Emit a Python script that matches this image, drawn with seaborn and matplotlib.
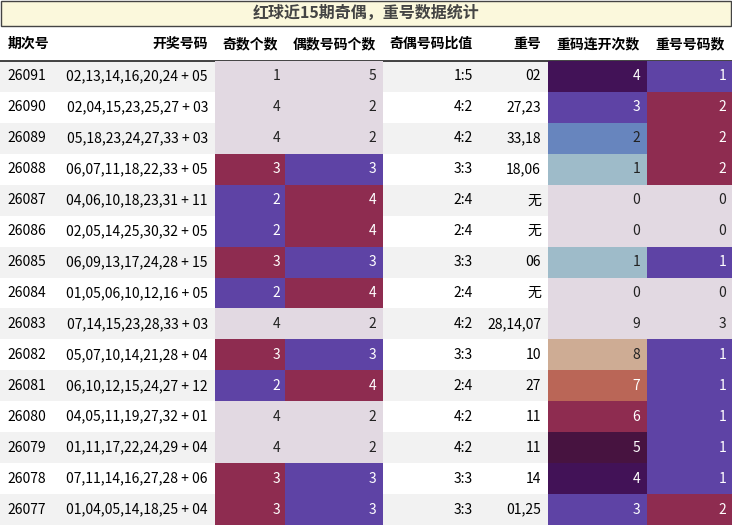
import matplotlib
matplotlib.use("Agg")
import matplotlib.pyplot as plt
import seaborn as sns
import numpy as np
import pandas as pd
from matplotlib.patches import Rectangle

plt.rcParams['font.family'] = ['Noto Sans CJK SC', 'DejaVu Sans']

issues = ["26091","26090","26089","26088","26087","26086","26085","26084","26083","26082","26081","26080","26079","26078","26077"]
draws = ["02,13,14,16,20,24 + 05","02,04,15,23,25,27 + 03","05,18,23,24,27,33 + 03","06,07,11,18,22,33 + 05",
         "04,06,10,18,23,31 + 11","02,05,14,25,30,32 + 05","06,09,13,17,24,28 + 15","01,05,06,10,12,16 + 05",
         "07,14,15,23,28,33 + 03","05,07,10,14,21,28 + 04","06,10,12,15,24,27 + 12","04,05,11,19,27,32 + 01",
         "01,11,17,22,24,29 + 04","07,11,14,16,27,28 + 06","01,04,05,14,18,25 + 04"]
odd_cnt = [1,4,4,3,2,2,3,2,4,3,2,4,4,3,3]
even_cnt = [5,2,2,3,4,4,3,4,2,3,4,2,2,3,3]
ratio = ["1:5","4:2","4:2","3:3","2:4","2:4","3:3","2:4","4:2","3:3","2:4","4:2","4:2","3:3","3:3"]
repeats = ["02","27,23","33,18","18,06","无","无","06","无","28,14,07","10","27","11","11","14","01,25"]
consec = [4,3,2,1,0,0,1,0,9,8,7,6,5,4,3]
rep_cnt = [1,2,2,2,0,0,1,0,3,1,1,1,1,1,2]
headers = ["期次号","开奖号码","奇数个数","偶数号码个数","奇偶号码比值","重号","重码连开次数","重号号码数"]
title = "红球近15期奇偶，重号数据统计"

W, H = 732, 525
fig = plt.figure(figsize=(W/100, H/100), dpi=100)
ax = fig.add_axes([0, 0, 1, 1])
ax.set_xlim(0, W); ax.set_ylim(H, 0); ax.axis('off')

edges = [0, 55, 215, 285, 383, 480, 548, 647, 732]
top_title, top_head, top_data = 0, 26, 61
rh = (H - top_data) / 15

ax.add_patch(Rectangle((1, 1), W-2, 25, facecolor='#fbf8dc', edgecolor='#444444', lw=1))
ax.text(W/2, 13, title, ha='center', va='center', fontsize=11.5, fontweight='bold', color='#444444')
for i, h in enumerate(headers):
    if i == 0:
        ax.text(8, 44, h, ha='left', va='center', fontsize=10, fontweight='bold')
    else:
        ax.text(edges[i+1]-7, 44, h, ha='right', va='center', fontsize=10, fontweight='bold')
ax.plot([0, W], [top_data, top_data], color='#222222', lw=1.2)

for r in range(15):
    y0 = top_data + r*rh
    bg = '#f2f2f2' if r % 2 == 0 else 'white'
    ax.add_patch(Rectangle((0, y0), W, rh, facecolor=bg, edgecolor='none', zorder=0))
    yc = y0 + rh/2
    ax.text(27, yc, issues[r], ha='center', va='center', fontsize=10)
    ax.text(edges[2]-7, yc, draws[r], ha='right', va='center', fontsize=10)
    ax.text(edges[5]-7, yc, ratio[r], ha='right', va='center', fontsize=10)
    ax.text(edges[6]-7, yc, repeats[r], ha='right', va='center', fontsize=10)

cmap = plt.get_cmap('twilight')
def norm(v):
    v = np.array(v, float); return (v - v.min()) / (v.max() - v.min())

def heat(cols, vals, x0, x1):
    dfv = pd.DataFrame({k: norm(v) for k, v in zip(cols, vals)})
    hax = fig.add_axes([x0/W, 0, (x1-x0)/W, (H-top_data)/H])
    sns.heatmap(dfv, ax=hax, cmap=cmap, vmin=0, vmax=1, cbar=False,
                xticklabels=False, yticklabels=False)
    hax.axis('off')
    for c, v in enumerate(vals):
        n = norm(v)
        for r in range(15):
            rgb = cmap(n[r])[:3]
            lum = 0.299*rgb[0] + 0.587*rgb[1] + 0.114*rgb[2]
            hax.text(c + 0.93, r + 0.5, str(v[r]), ha='right', va='center', fontsize=10,
                     color='white' if lum < 0.5 else '#222222')

# columns have different widths; use two axes per pair
def heat_single(v, x0, x1):
    heat(['a'], [v], x0, x1)
heat_single(odd_cnt, edges[2], edges[3])
heat_single(even_cnt, edges[3], edges[4])
heat_single(consec, edges[6], edges[7])
heat_single(rep_cnt, edges[7], edges[8])

fig.savefig('out.png', dpi=100)
